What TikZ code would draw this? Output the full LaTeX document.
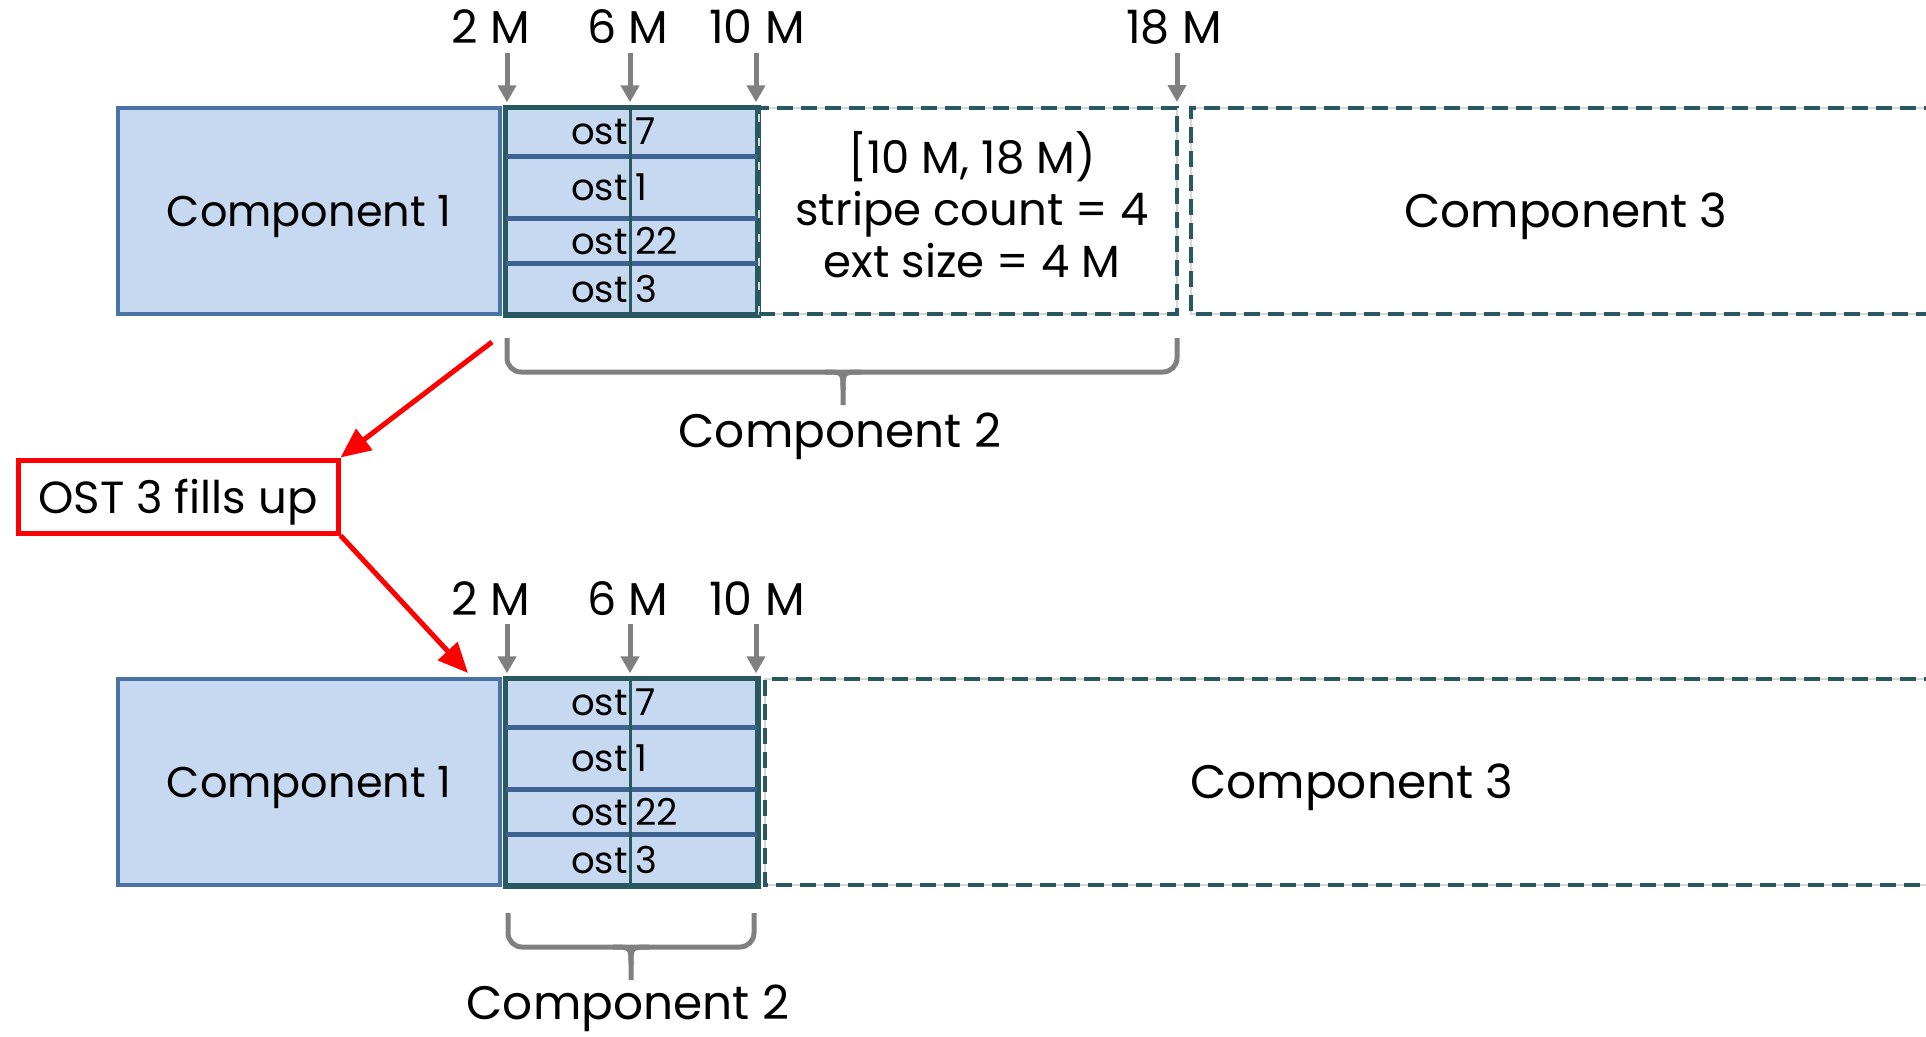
\documentclass[tikz,border=0pt]{standalone}
\usepackage{fontspec}
\setmainfont{Poppins}
\usetikzlibrary{arrows.meta,calc}
\definecolor{cfill}{RGB}{198,217,240}
\definecolor{cone}{RGB}{74,114,163}
\definecolor{cteal}{RGB}{40,88,96}
\definecolor{cdiv}{RGB}{62,98,145}
\definecolor{cgray}{RGB}{128,128,128}
\definecolor{cghost}{RGB}{215,215,215}
\definecolor{cred}{RGB}{255,0,0}
\begin{document}
\begin{tikzpicture}[x=1pt,y=-1pt,
 comp1/.style={draw=cone,line width=3.5pt,fill=cfill,minimum width=382pt,minimum height=206pt,inner sep=0pt,text depth=0pt,font=\fontsize{43}{50}\selectfont},
 comp2/.style={draw=cteal,line width=3.5pt,fill=cfill,minimum width=251pt,minimum height=206pt,inner sep=0pt},
 ostrow/.style={minimum width=251pt,inner sep=0pt,anchor=north,font=\fontsize{37}{40}\selectfont},
 divline/.style={draw=cdiv,line width=5pt},
 vline/.style={draw=cteal,line width=3pt},
 dashbox/.style={draw=cteal,line width=4pt,dash pattern=on 16pt off 8pt,preaction={draw=cghost,line width=1.5pt,solid}},
 mlabel/.style={inner sep=0pt,anchor=base,font=\fontsize{46}{50}\selectfont},
 gtick/.style={draw=cgray,line width=5pt,-{Triangle[length=17pt,width=18pt]}},
 gbrace/.style={draw=cgray,line width=5pt,rounded corners=14pt},
 redarrow/.style={draw=cred,line width=5pt,-{Triangle[length=30pt,width=26pt]}},
 redbox/.style={draw=cred,line width=5pt,minimum width=320pt,minimum height=73pt,inner sep=0pt,text depth=0pt,font=\fontsize{45}{50}\selectfont},
 bigtext/.style={inner sep=0pt,anchor=base,font=\fontsize{47}{56}\selectfont},
 extbox/.style={dashbox,minimum width=418pt,minimum height=206pt,inner sep=0pt},
 exttext/.style={inner sep=0pt,align=center,font=\fontsize{45}{52}\selectfont},
]
\useasboundingbox (0,0) rectangle (1926,1036);

% ---------------- top row ----------------
\node[comp1] (c1t) at (309,211) {Component 1};
\node[comp2] (c2t) at (631.5,211) {};
\node[ostrow,minimum height=50pt] (r1t) at (c2t.north) {\llap{ost}\hspace{8pt}\rlap{7}};
\node[ostrow,minimum height=61pt] (r2t) at (r1t.south) {\llap{ost}\hspace{8pt}\rlap{1}};
\node[ostrow,minimum height=45pt] (r3t) at (r2t.south) {\llap{ost}\hspace{8pt}\rlap{22}};
\node[ostrow,minimum height=50pt] (r4t) at (r3t.south) {\llap{ost}\hspace{8pt}\rlap{3}};
\draw[divline] (r1t.south west) -- (r1t.south east);
\draw[divline] (r2t.south west) -- (r2t.south east);
\draw[divline] (r3t.south west) -- (r3t.south east);
\draw[vline] ($(c2t.north)+(-1.5,0)$) -- ($(c2t.south)+(-1.5,0)$);
\draw[draw=cteal,line width=3.5pt] (c2t.north west) rectangle (c2t.south east);
\node[extbox] (ext) at (968,211) {};
\node[exttext] (extlbl) at (972,205) {[10 M, 18 M)\\stripe count = 4\\ext size = 4 M};
\draw[dashbox] (1940,108) -- (1191,108) -- (1191,314) -- (1940,314);
\node[bigtext] (c3t) at (1566,227) {Component 3};

\node[mlabel] (m2t) at (491,43) {2 M};
\node[mlabel] (m6t) at (628,43) {6 M};
\node[mlabel] (m10t) at (757,43) {10 M};
\node[mlabel] (m18t) at (1174,43) {18 M};
\coordinate (a2t) at (507,53);
\coordinate (a6t) at (630,53);
\coordinate (a10t) at (756,53);
\coordinate (a18t) at (1177,53);
\draw[gtick,shorten >=4pt] (a2t) -- (a2t |- c2t.north);
\draw[gtick,shorten >=4pt] (a6t) -- (a6t |- c2t.north);
\draw[gtick,shorten >=4pt] (a10t) -- (a10t |- c2t.north);
\draw[gtick,shorten >=4pt] (a18t) -- (a18t |- ext.north);

\draw[gbrace] (507,338) -- (507,372) -- (1177,372) -- (1177,338);
\draw[draw=cgray,line width=5pt] (825,372) .. controls (843,372) .. (843,390) -- (843,405);
\draw[draw=cgray,line width=5pt] (861,372) .. controls (843,372) .. (843,390);
\node[bigtext] (lbl2t) at (840,447) {Component 2};

% ---------------- red note ----------------
\node[redbox] (note) at (178,496.5) {OST 3 fills up};
\coordinate (rs) at (492,342);
\coordinate (re) at (468,673);
\draw[redarrow] (rs) -- (note.north east);
\draw[redarrow] (note.south east) -- (re);

% ---------------- bottom row ----------------
\node[comp1] (c1b) at (309,782) {Component 1};
\node[comp2] (c2b) at (631.5,782) {};
\node[ostrow,minimum height=50pt] (r1b) at (c2b.north) {\llap{ost}\hspace{8pt}\rlap{7}};
\node[ostrow,minimum height=61pt] (r2b) at (r1b.south) {\llap{ost}\hspace{8pt}\rlap{1}};
\node[ostrow,minimum height=45pt] (r3b) at (r2b.south) {\llap{ost}\hspace{8pt}\rlap{22}};
\node[ostrow,minimum height=50pt] (r4b) at (r3b.south) {\llap{ost}\hspace{8pt}\rlap{3}};
\draw[divline] (r1b.south west) -- (r1b.south east);
\draw[divline] (r2b.south west) -- (r2b.south east);
\draw[divline] (r3b.south west) -- (r3b.south east);
\draw[vline] ($(c2b.north)+(-1.5,0)$) -- ($(c2b.south)+(-1.5,0)$);
\draw[draw=cteal,line width=3.5pt] (c2b.north west) rectangle (c2b.south east);
\draw[dashbox] (1940,679) -- (765,679) -- (765,885) -- (1940,885);
\node[bigtext] (c3b) at (1352,798) {Component 3};

\node[mlabel] (m2b) at (491,615) {2 M};
\node[mlabel] (m6b) at (628,615) {6 M};
\node[mlabel] (m10b) at (757,615) {10 M};
\coordinate (a2b) at (507,624);
\coordinate (a6b) at (630,624);
\coordinate (a10b) at (756,624);
\draw[gtick,shorten >=4pt] (a2b) -- (a2b |- c2b.north);
\draw[gtick,shorten >=4pt] (a6b) -- (a6b |- c2b.north);
\draw[gtick,shorten >=4pt] (a10b) -- (a10b |- c2b.north);

\draw[gbrace] (508,913) -- (508,947) -- (754,947) -- (754,913);
\draw[draw=cgray,line width=5pt] (613,947) .. controls (631,947) .. (631,965) -- (631,980);
\draw[draw=cgray,line width=5pt] (649,947) .. controls (631,947) .. (631,965);
\node[bigtext] (lbl2b) at (628,1019) {Component 2};
\end{tikzpicture}
\end{document}
